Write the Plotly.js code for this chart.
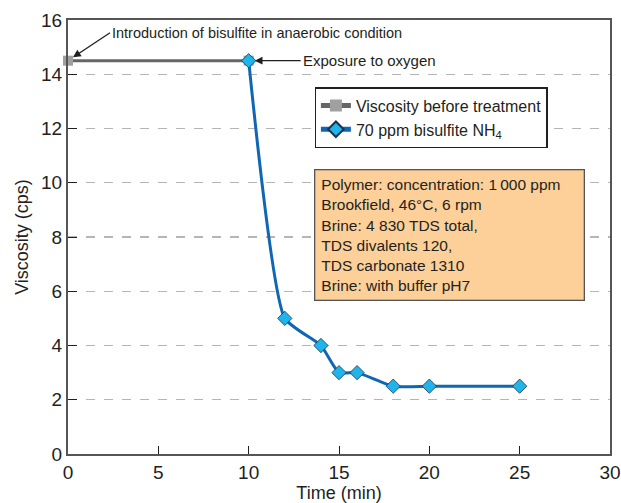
<!DOCTYPE html>
<html><head><meta charset="utf-8">
<script src="https://cdn.plot.ly/plotly-3.0.1.min.js"></script>
<style>body{margin:0;background:#fff}#c{width:621px;height:503px}</style>
</head><body><div id="c"></div>
<script>
const beforeTime = [0, 10];
const beforeVisc = [14.5, 14.5];
const bisTime = [10, 12, 14, 15, 16, 18, 20, 25];
const bisVisc = [14.5, 5, 4, 3, 3, 2.5, 2.5, 2.5];
const xTicks = [0, 5, 10, 15, 20, 25, 30];
const yTicks = [0, 2, 4, 6, 8, 10, 12, 14, 16];
const infoLines = ["Polymer: concentration: 1\u2009000 ppm","Brookfield, 46°C, 6 rpm","Brine: 4 830 TDS total,","TDS divalents 120,","TDS carbonate 1310","Brine: with buffer pH7"];

const font = "Liberation Sans, Arial, Helvetica, sans-serif";
const traces = [
  {x: beforeTime, y: beforeVisc, mode: "lines+markers", name: "Viscosity before treatment", cliponaxis: false,
   line: {color: "#666666", width: 3}, marker: {symbol: "square", size: 10, color: "#a0a0a0"}},
  {x: bisTime, y: bisVisc, mode: "lines+markers", name: "70 ppm bisulfite NH<sub>4</sub>", cliponaxis: false,
   line: {color: "#0f67b3", width: 3, shape: "spline", smoothing: 0.5},
   marker: {symbol: "diamond", size: 11, color: "#1fb4ea", line: {color: "#1a3350", width: 0.8}}}
];
const layout = {
  width: 621, height: 503,
  margin: {l: 68, r: 11, t: 20, b: 49},
  paper_bgcolor: "#fff", plot_bgcolor: "#fff",
  font: {family: font, color: "#231f20"},
  showlegend: true,
  legend: {x: 0.455, y: 0.845, xanchor: "left", yanchor: "top", bgcolor: "#fff", itemsizing: "constant",
    bordercolor: "#231f20", borderwidth: 1.3, font: {size: 16, family: font}, tracegroupgap: 0},
  xaxis: {range: [0, 30], tickvals: xTicks, ticks: "inside", ticklen: 8, tickcolor: "#231f20",
    showline: true, mirror: true, linecolor: "#555", linewidth: 2, showgrid: false, zeroline: false,
    tickfont: {size: 19}, title: {text: "Time (min)", font: {size: 18}, standoff: 2}},
  yaxis: {range: [0, 16], tickvals: yTicks, ticks: "inside", ticklen: 9, tickcolor: "#231f20",
    showline: true, mirror: true, linecolor: "#555", linewidth: 2,
    showgrid: true, gridcolor: "#b5b5b5", griddash: "dash", gridwidth: 1.3, zeroline: false,
    tickfont: {size: 19}, title: {text: "Viscosity (cps)", font: {size: 18}, standoff: 8}},
  annotations: [
    {x: beforeTime[0], y: beforeVisc[0], xref: "x", yref: "y", ax: 42, ay: -28,
     text: "Introduction of bisulfite in anaerobic condition", showarrow: true, arrowhead: 2,
     arrowsize: 1.2, arrowwidth: 1.3, arrowcolor: "#231f20", standoff: 6,
     xanchor: "left", yanchor: "middle", font: {size: 14.5}},
    {x: bisTime[0], y: bisVisc[0], xref: "x", yref: "y", ax: 52, ay: 0,
     text: "Exposure to oxygen", showarrow: true, arrowhead: 2, arrowsize: 1.2, arrowwidth: 1.3,
     arrowcolor: "#231f20", standoff: 6, xanchor: "left", yanchor: "middle", font: {size: 15}},
    {x: 0.454, y: 0.657, xref: "paper", yref: "paper", xanchor: "left", yanchor: "top",
     showarrow: false, align: "left", text: infoLines.join("<br>"), font: {size: 15.5},
     bgcolor: "#fdcf99", bordercolor: "#555", borderwidth: 1.3, borderpad: 6, width: 256}
  ]
};
Plotly.newPlot("c", traces, layout, {displayModeBar: false, staticPlot: true});
</script></body></html>
